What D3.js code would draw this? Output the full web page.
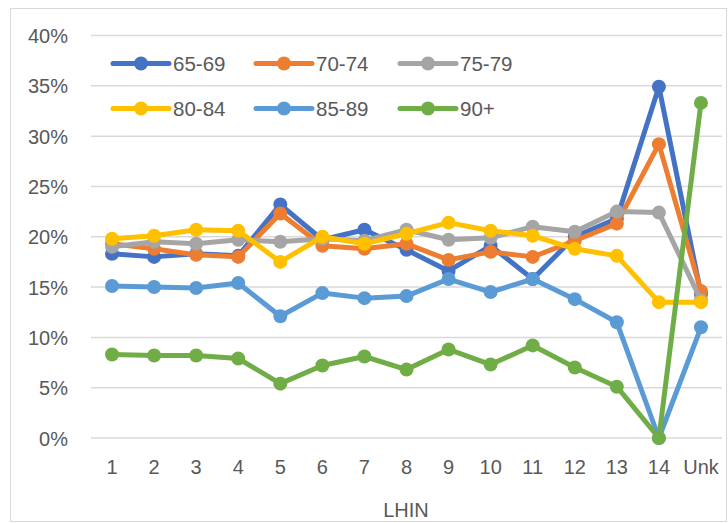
<!DOCTYPE html>
<html><head><meta charset="utf-8">
<script src="https://cdn.jsdelivr.net/npm/d3@7"></script>
<style>body{margin:0;background:#fff}text{font-family:"Liberation Sans",Arial,sans-serif}</style>
</head><body><svg id="c" width="728" height="523"></svg>
<script>
const categories = ["1","2","3","4","5","6","7","8","9","10","11","12","13","14","Unk"];
const seriesNames = ["65-69","70-74","75-79","80-84","85-89","90+"];
const colors = ["#4472C4","#ED7D31","#A5A5A5","#FFC000","#5B9BD5","#70AD47"];
const s6569 = [18.3,18.0,18.3,18.1,23.2,19.7,20.7,18.7,16.6,19.1,15.8,20.0,21.8,34.9,14.3];
const s7074 = [19.3,18.8,18.2,18.0,22.3,19.1,18.8,19.3,17.7,18.5,18.0,19.6,21.3,29.2,14.6];
const s7579 = [19.0,19.5,19.3,19.7,19.5,19.8,19.6,20.7,19.7,19.9,21.0,20.5,22.5,22.4,13.7];
const s8084 = [19.8,20.1,20.7,20.6,17.5,20.0,19.3,20.3,21.4,20.6,20.1,18.8,18.1,13.5,13.5];
const s8589 = [15.1,15.0,14.9,15.4,12.1,14.4,13.9,14.1,15.8,14.5,15.8,13.8,11.5,0,11.0];
const s90 = [8.3,8.2,8.2,7.9,5.4,7.2,8.1,6.8,8.8,7.3,9.2,7.0,5.1,0,33.3];
const yTicks = [0,5,10,15,20,25,30,35,40];
const allSeries = [s6569,s7074,s7579,s8084,s8589,s90];

const svg = d3.select("#c");
const txt = "#595959";
const fs = "20px";
svg.append("rect").attr("x",10.5).attr("y",8.5).attr("width",716).attr("height",513)
  .attr("fill","#fff").attr("stroke","#d9d9d9").attr("stroke-width",1);

const x = d3.scaleBand().domain(categories).range([91,722]);
const y = d3.scaleLinear().domain([0,40]).range([438,35.5]);

const grid = svg.append("g");
yTicks.forEach(t=>{
  grid.append("line").attr("x1",91).attr("x2",722).attr("y1",y(t)).attr("y2",y(t))
    .attr("stroke","#d9d9d9").attr("stroke-width",1.5);
});
const yAxis = d3.axisLeft(y).tickValues(yTicks).tickFormat(d=>d+"%").tickSize(0).tickPadding(0);
const ga = svg.append("g").attr("transform","translate(68,0)").call(yAxis);
ga.select(".domain").remove();
ga.selectAll("text").attr("fill",txt).style("font-size",fs).attr("font-family","Liberation Sans, Arial, sans-serif").attr("dy","0.35em");

const xAxis = d3.axisBottom(x).tickSize(0).tickPadding(0);
const gx = svg.append("g").attr("transform","translate(0,460)").call(xAxis);
gx.select(".domain").remove();
gx.selectAll("text").attr("fill",txt).style("font-size",fs).attr("font-family","Liberation Sans, Arial, sans-serif").attr("dy","0.35em").attr("y",7);

svg.append("text").attr("x",406).attr("y",517).attr("text-anchor","middle")
  .attr("fill",txt).style("font-size",fs).text("LHIN");

const line = d3.line().x((d,i)=>x(categories[i])+x.bandwidth()/2).y(d=>y(d));
allSeries.forEach((s,k)=>{
  const g = svg.append("g");
  g.append("path").datum(s).attr("d",line).attr("fill","none").attr("stroke",colors[k])
    .attr("stroke-width",5).attr("stroke-linejoin","round").attr("stroke-linecap","round");
  g.selectAll("circle").data(s).join("circle")
    .attr("cx",(d,i)=>x(categories[i])+x.bandwidth()/2).attr("cy",d=>y(d)).attr("r",7)
    .attr("fill",colors[k]);
});

// legend
const legX = [113,256,400], legY = [63.5,108.5];
seriesNames.forEach((n,k)=>{
  const lx = legX[k%3], ly = legY[Math.floor(k/3)];
  const g = svg.append("g");
  g.append("line").attr("x1",lx).attr("x2",lx+56).attr("y1",ly).attr("y2",ly)
    .attr("stroke",colors[k]).attr("stroke-width",5).attr("stroke-linecap","round");
  g.append("circle").attr("cx",lx+28).attr("cy",ly).attr("r",7).attr("fill",colors[k]);
  g.append("text").attr("x",lx+60).attr("y",ly).attr("dy","0.35em").attr("fill",txt)
    .style("font-size","20.5px").text(n);
});
</script></body></html>
